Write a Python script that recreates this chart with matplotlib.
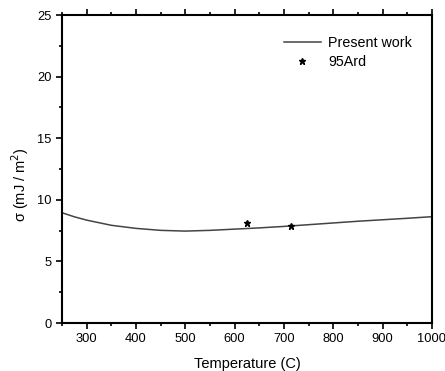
import matplotlib
matplotlib.use("Agg")
import matplotlib.pyplot as plt
from matplotlib.ticker import MultipleLocator

plt.rcParams['font.family'] = ['Liberation Sans', 'DejaVu Sans']

temp = [250, 275, 300, 350, 400, 450, 500, 550, 600, 650, 700, 750, 800, 850, 900, 950, 1000]
sigma = [8.95, 8.62, 8.35, 7.93, 7.68, 7.52, 7.46, 7.52, 7.62, 7.72, 7.84, 7.98, 8.12, 8.26, 8.38, 8.5, 8.63]
ard_temp = [625, 715]
ard_sigma = [8.1, 7.9]

fig = plt.figure(figsize=(4.45, 3.71), dpi=100)
ax = fig.add_axes([62/445, 1-323/371, (432-62)/445, (323-15)/371])
ax.plot(temp, sigma, color='#444444', lw=1.1, label='Present work')
ax.plot(ard_temp, ard_sigma, ls='none', marker='*', color='black', ms=5, label='95Ard')
ax.set_xlim(250, 1000)
ax.set_ylim(0, 25)
ax.xaxis.set_major_locator(MultipleLocator(100))
ax.xaxis.set_minor_locator(MultipleLocator(50))
ax.yaxis.set_major_locator(MultipleLocator(5))
ax.yaxis.set_minor_locator(MultipleLocator(2.5))
ax.tick_params(which='both', direction='out', top=True, right=False, labelsize=9.3, width=1.2)
ax.tick_params(which='major', length=4)
ax.tick_params(which='minor', length=2.5)
for s in ax.spines.values():
    s.set_linewidth(1.5)
ax.set_xlabel('Temperature (C)', fontsize=10.5, labelpad=8)
ax.set_ylabel(r'σ (mJ / m$^2$)', fontsize=10.5)
ax.yaxis.set_label_coords(-0.083, 0.451)
ax.legend(loc='upper right', frameon=False, fontsize=10.3, handlelength=2.6,
          handletextpad=0.5, bbox_to_anchor=(0.981, 0.975), labelspacing=0.4)
fig.savefig('out.png', dpi=100)
